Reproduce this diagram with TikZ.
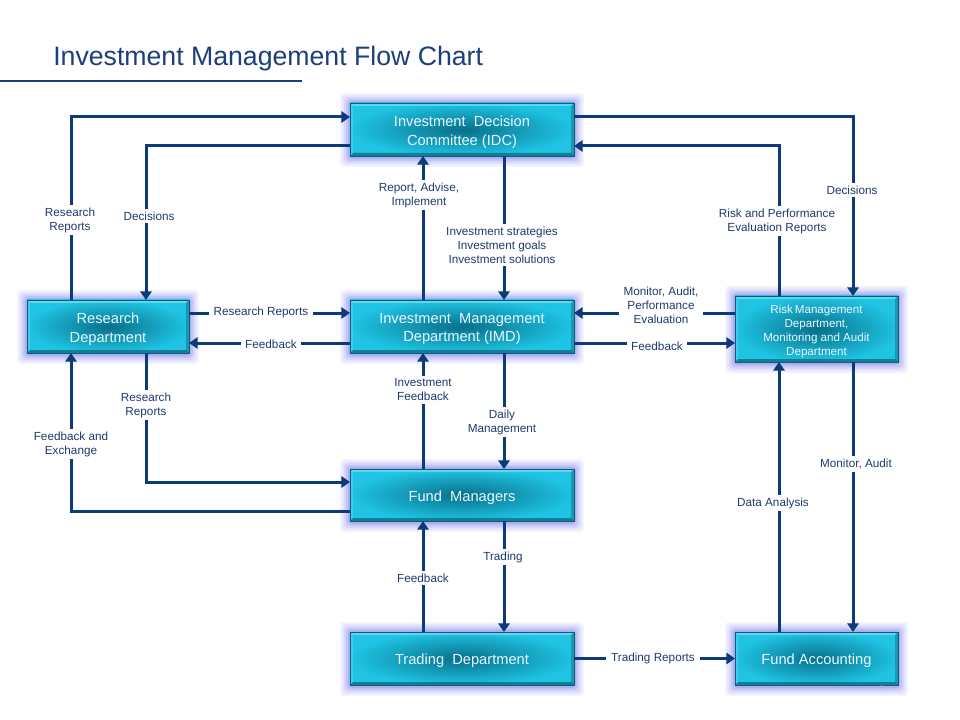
\documentclass[tikz,border=0pt]{standalone}
\usepackage{fontspec}
\setmainfont{Liberation Sans}
\usetikzlibrary{arrows.meta,calc}
\definecolor{linec}{HTML}{0B3B7A}
\definecolor{labelc}{HTML}{1E3A6E}
\definecolor{titlec}{HTML}{1C3F7C}
\definecolor{boxlight}{HTML}{1FC3E3}
\definecolor{boxdark}{HTML}{08708A}
\definecolor{boxedge}{HTML}{0A5E7A}
\definecolor{glowc}{HTML}{6A6AE6}
\definecolor{boxtextc}{HTML}{E8FAFF}
\tikzset{
  conn/.style={draw=linec,line width=2.25pt,-{Triangle[length=6.5pt,width=8.5pt]}},
  lbl/.style={fill=white,text=labelc,font=\fontsize{8.8}{10.5}\selectfont,align=center,inner xsep=3.5pt,inner ysep=2pt},
  boxtext/.style={text=boxtextc,align=center,inner sep=0pt,outer sep=0pt,font=\fontsize{11}{14}\selectfont},
  boxshape/.style={inner sep=0pt,outer sep=0pt},
}
\newcommand\mybox[7]{%
  \foreach \g/\o in {10/0.08,8/0.10,6/0.13,4/0.17,2/0.25}{
    \fill[glowc,opacity=\o,rounded corners=3pt] (#2-#4/2-\g,#3-#5/2-\g) rectangle (#2+#4/2+\g,#3+#5/2+\g+1);}
  \shade[inner color=boxdark,outer color=boxlight] (#2-#4/2,#3-#5/2) rectangle (#2+#4/2,#3+#5/2);
  \fill[white,opacity=0.30] (#2-#4/2,#3-#5/2) -- (#2+#4/2,#3-#5/2) -- (#2+#4/2-3,#3-#5/2+3) -- (#2-#4/2+3,#3-#5/2+3) -- cycle;
  \fill[white,opacity=0.15] (#2-#4/2,#3-#5/2) -- (#2-#4/2+3,#3-#5/2+3) -- (#2-#4/2+3,#3+#5/2-3) -- (#2-#4/2,#3+#5/2) -- cycle;
  \fill[black,opacity=0.35] (#2-#4/2,#3+#5/2) -- (#2+#4/2,#3+#5/2) -- (#2+#4/2-3,#3+#5/2-3) -- (#2-#4/2+3,#3+#5/2-3) -- cycle;
  \fill[black,opacity=0.22] (#2+#4/2,#3-#5/2) -- (#2+#4/2-3,#3-#5/2+3) -- (#2+#4/2-3,#3+#5/2-3) -- (#2+#4/2,#3+#5/2) -- cycle;
  \draw[boxedge,line width=0.7pt] (#2-#4/2,#3-#5/2) rectangle (#2+#4/2,#3+#5/2);
  \node[boxshape,minimum width=#4*0.75pt,minimum height=#5*0.75pt] (#1) at (#2,#3) {};
  \node[boxtext,#7] (#1t) at (#2,#3+2.5) {#6};
}
\begin{document}
\begin{tikzpicture}[x=0.75pt,y=-0.75pt]
\useasboundingbox (0,0) rectangle (960,720);
% title
\node[anchor=west,text=titlec,font=\fontsize{20}{24}\selectfont,inner sep=0pt] (title) at (53,59) {Investment Management Flow Chart};
\draw[titlec,line width=1.6pt] (0,81) -- (302,81);
% boxes
\mybox{idc}{462}{129.5}{224}{53}{Investment~ Decision\\Committee (IDC)}{}
\mybox{res}{108}{326.5}{162}{53}{Research\\Department}{}
\mybox{imd}{462}{326.5}{224}{53}{Investment~ Management\\Department (IMD)}{}
\mybox{risk}{816.5}{329}{163}{66}{Risk\,Management\\Department,\\Monitoring and Audit\\Department}{font=\fontsize{8.7}{10.6}\selectfont}
\mybox{fm}{462}{495}{224}{52}{Fund~ Managers}{}
\mybox{trd}{462}{658.5}{224}{53}{Trading~ Department}{}
\mybox{fa}{816.5}{658.5}{163}{53}{Fund Accounting}{}
% helper coordinates
\coordinate (xa) at (71,0);
\coordinate (xb) at (146,0);
\coordinate (xc) at (423,0);
\coordinate (xd) at (504,0);
\coordinate (xe) at (779,0);
\coordinate (xf) at (853,0);
\coordinate (ya) at (0,117);
\coordinate (yb) at (0,146);
\coordinate (yc) at (0,313);
\coordinate (yd) at (0,343);
\coordinate (ye) at (0,482);
\coordinate (yf) at (0,511);
% connectors
\draw[conn] (res.north -| xa) |- (idc.west |- ya);
\draw[conn] (idc.west |- yb) -| (res.north -| xb);
\draw[conn] (idc.south -| xd) -- (imd.north -| xd);
\draw[conn] (imd.north -| xc) -- (idc.south -| xc);
\draw[conn] (idc.east |- ya) -| (risk.north -| xf);
\draw[conn] (risk.north -| xe) |- (idc.east |- yb);
\draw[conn] (res.east |- yc) -- (imd.west |- yc);
\draw[conn] (imd.west |- yd) -- (res.east |- yd);
\draw[conn] (risk.west |- yc) -- (imd.east |- yc);
\draw[conn] (imd.east |- yd) -- (risk.west |- yd);
\draw[conn] (imd.south -| xd) -- (fm.north -| xd);
\draw[conn] (fm.north -| xc) -- (imd.south -| xc);
\draw[conn] (res.south -| xb) |- (fm.west |- ye);
\draw[conn] (fm.west |- yf) -| (res.south -| xa);
\draw[conn] (fm.south -| xd) -- (trd.north -| xd);
\draw[conn] (trd.north -| xc) -- (fm.south -| xc);
\draw[conn] (trd.east) -- (fa.west);
\draw[conn] (fa.north -| xe) -- (risk.south -| xe);
\draw[conn] (risk.south -| xf) -- (fa.north -| xf);
% labels
\node[lbl] (l1) at (70,220) {Research\\Reports};
\node[lbl] (l2) at (149,216) {Decisions};
\node[lbl] (l3) at (419,195) {Report, Advise,\\Implement};
\node[lbl] (l4) at (502,245) {Investment strategies\\Investment goals\\Investment solutions};
\node[lbl] (l5) at (852,190) {Decisions};
\node[lbl] (l6) at (777,221) {Risk and Performance\\Evaluation Reports};
\node[lbl] (l7) at (261,312) {Research Reports};
\node[lbl] (l8) at (271,344) {Feedback};
\node[lbl] (l9) at (661,305) {Monitor, Audit,\\Performance\\Evaluation};
\node[lbl] (l10) at (657,346) {Feedback};
\node[lbl] (l11) at (423,390) {Investment\\Feedback};
\node[lbl] (l12) at (502,422) {Daily\\Management};
\node[lbl] (l13) at (146,405) {Research\\Reports};
\node[lbl] (l14) at (71,444) {Feedback and\\Exchange};
\node[lbl] (l15) at (503,557) {Trading};
\node[lbl] (l16) at (423,578) {Feedback};
\node[lbl] (l17) at (653,658) {Trading Reports};
\node[lbl] (l18) at (773,503) {Data Analysis};
\node[lbl] (l19) at (856,464) {Monitor, Audit};
\node[text=gray!60,font=\fontsize{4.5}{5}\selectfont,inner sep=0pt] (pg) at (882,687) {1};
\end{tikzpicture}
\end{document}
